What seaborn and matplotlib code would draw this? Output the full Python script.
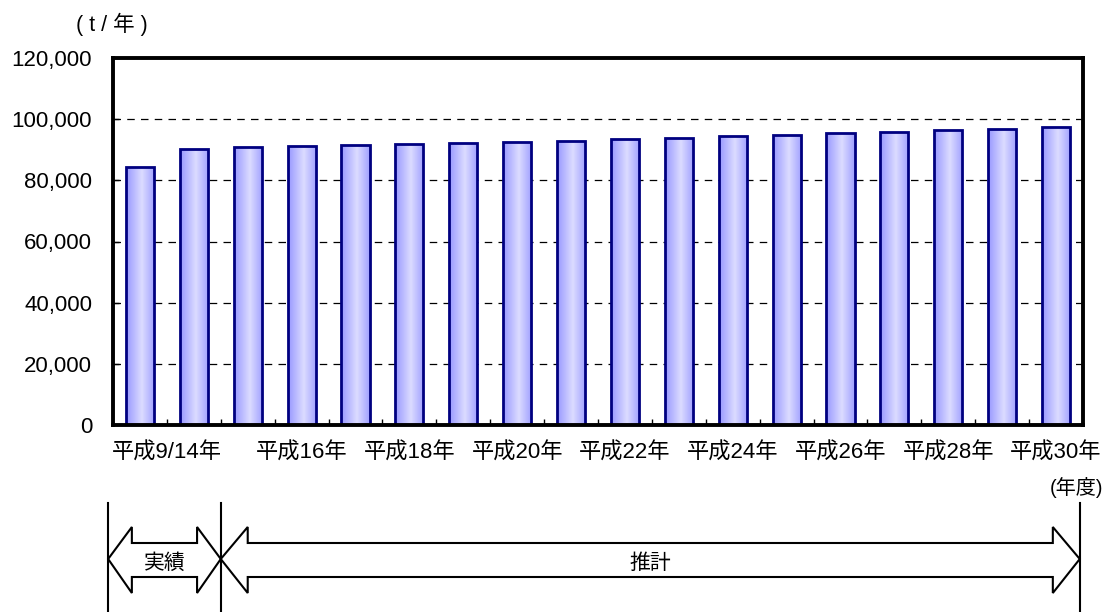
import numpy as np
import pandas as pd
import seaborn as sns
import matplotlib
matplotlib.use("Agg")
import matplotlib.pyplot as plt
from matplotlib.patches import Polygon
from matplotlib.lines import Line2D
from matplotlib.transforms import blended_transform_factory
from matplotlib.colors import LinearSegmentedColormap
from matplotlib.ticker import FuncFormatter

# ---- data ----
categories = ["平成9年", "平成14年", "平成15年", "平成16年", "平成17年", "平成18年",
              "平成19年", "平成20年", "平成21年", "平成22年", "平成23年", "平成24年",
              "平成25年", "平成26年", "平成27年", "平成28年", "平成29年", "平成30年"]
values = [84300, 90100, 91000, 91300, 91600, 91900, 92200, 92650, 93000,
          93600, 94000, 94600, 94850, 95500, 95800, 96350, 96700, 97350]
tick_labels = ["平成9/14年", "平成16年", "平成18年", "平成20年", "平成22年",
               "平成24年", "平成26年", "平成28年", "平成30年"]
tick_positions = [0.5, 3, 5, 7, 9, 11, 13, 15, 17]
y_ticks = [0, 20000, 40000, 60000, 80000, 100000, 120000]
unit_label = "( t / 年 )"
x_unit_label = "(年度)"
period_labels = ["実績", "推計"]

plt.rcParams['font.family'] = ['Liberation Sans', 'Noto Sans CJK JP']

W, H = 1112, 612
fig = plt.figure(figsize=(W / 100, H / 100), dpi=100)
ax = fig.add_axes([113 / W, 1 - 425 / H, (1083 - 113) / W, (425 - 58) / H])

df = pd.DataFrame({"year": categories, "amount": values})
sns.barplot(data=df, x="year", y="amount", ax=ax, width=0.52, color="#B3B3FF",
            saturation=1, edgecolor="#000080", linewidth=2.0, zorder=3)

# gradient fill inside bars
cmap = LinearSegmentedColormap.from_list(
    "barg", [(0.0, "#9898FF"), (0.55, "#DCDCFF"), (1.0, "#A0A0FF")])
grad = np.linspace(0, 1, 128).reshape(1, -1)
for p in ax.patches:
    x0, y0, w, h = p.get_x(), p.get_y(), p.get_width(), p.get_height()
    im = ax.imshow(grad, extent=[x0, x0 + w, y0, y0 + h], aspect="auto",
                   cmap=cmap, zorder=3.5, interpolation="bilinear")
    im.set_clip_path(p)
    p.set_facecolor("none")
    p.set_zorder(4)

ax.set_xlim(-0.5, len(categories) - 0.5)
ax.set_ylim(0, 120000)
ax.set_yticks(y_ticks)
ax.yaxis.set_major_formatter(FuncFormatter(lambda v, p: f"{int(v):,}"))
ax.set_xticks(tick_positions, tick_labels)
ax.set_xticks(np.arange(0.5, len(categories) - 1, 1), minor=True)
ax.xaxis.remove_overlapping_locs = False
ax.set_xlabel("")
ax.set_ylabel("")

ax.tick_params(axis="x", which="major", length=0, pad=13, labelsize=16)
ax.tick_params(axis="x", which="minor", direction="in", length=4, width=1,
               color="black", top=False)
ax.tick_params(axis="y", direction="in", length=4, width=1, pad=15, labelsize=16)

ax.yaxis.grid(True, color="black", linestyle=(0, (6, 5)), linewidth=0.9)
ax.set_axisbelow(True)
for s in ax.spines.values():
    s.set_linewidth(2.8)
    s.set_color("black")
    s.set_zorder(6)

fig.text(112 / W, 1 - 24 / H, unit_label, ha="center", va="center", fontsize=15.5)
fig.text(1103 / W, 1 - 487 / H, x_unit_label, ha="right", va="center", fontsize=14.5)

# period arrows
trans = blended_transform_factory(ax.transData, fig.transFigure)
fy = lambda px: 1 - px / H
xl, xm, xr = -0.59, 1.5, 17.44
for x in (xl, xm, xr):
    fig.add_artist(Line2D([x, x], [fy(503), 0], transform=trans, color="black", lw=1.5))

def double_arrow(a, b, head):
    yc, ht, hb, st, sb = fy(559), fy(527), fy(593), fy(543), fy(577)
    pts = [(a, yc), (a + head, ht), (a + head, st), (b - head, st), (b - head, ht),
           (b, yc), (b - head, hb), (b - head, sb), (a + head, sb), (a + head, hb)]
    fig.add_artist(Polygon(pts, closed=True, transform=trans, facecolor="white",
                           edgecolor="black", lw=1.5))

double_arrow(xl, xm, 0.44)
double_arrow(xm, xr, 0.5)
fig.text((xl + xm) / 2, fy(563), period_labels[0], transform=trans,
         ha="center", va="center", fontsize=15)
fig.text((xm + xr) / 2, fy(563), period_labels[1], transform=trans,
         ha="center", va="center", fontsize=15)

fig.savefig("out.png", dpi=100)
